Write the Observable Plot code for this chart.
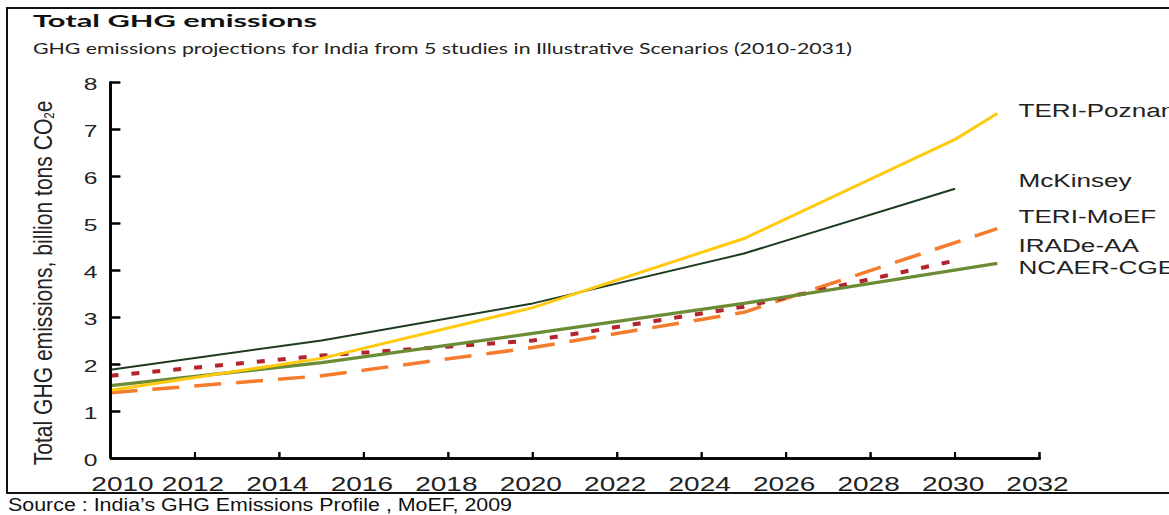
<!DOCTYPE html>
<html><head><meta charset="utf-8">
<script src="https://cdn.jsdelivr.net/npm/d3@7"></script>
<script src="https://cdn.jsdelivr.net/npm/@observablehq/plot@0.6"></script>
<style>
html,body{margin:0;padding:0;background:#fff;}
#wrap{position:relative;width:1169px;height:515px;overflow:hidden;background:#fff;font-family:"Liberation Sans",Arial,sans-serif;color:#222;}
#chart{position:absolute;left:0;top:0;}
.t{position:absolute;white-space:nowrap;line-height:1;transform-origin:0 0;}
.frame{position:absolute;background:#111;}
#title{font-family:Lato,"Open Sans",sans-serif;font-weight:bold;font-size:17px;color:#111;left:33px;top:12px;}
#subtitle{font-family:Lato,"Open Sans",sans-serif;font-size:14.5px;color:#222;left:33px;top:42px;}
#source{font-size:17.5px;color:#111;left:8px;top:497px;}
#ylabel{font-size:25px;color:#222;transform-origin:50% 50%;}
#ylabel sub{font-size:55%;vertical-align:-0.15em;}
</style></head><body>
<div id="wrap">
  <div id="chart"></div>
  <div class="frame" style="left:6px;top:7px;width:1163px;height:2px"></div>
  <div class="frame" style="left:6px;top:7px;width:2px;height:487px"></div>
  <div class="frame" style="left:6px;top:492px;width:1163px;height:2px"></div>
  <div id="title" class="t">Total GHG emissions</div>
  <div id="subtitle" class="t">GHG emissions projections for India from 5 studies in Illustrative Scenarios (2010-2031)</div>
  <div id="ylabel" class="t">Total GHG emissions, billion tons CO<sub>2</sub>e</div>
  <div id="source" class="t">Source : India’s GHG Emissions Profile , MoEF, 2009</div>
</div>
<script>
// ---- data ----
const years = [2010, 2015, 2020, 2025, 2030, 2031];
const seriesNames = ["TERI-Poznan", "McKinsey", "TERI-MoEF", "IRADe-AA", "NCAER-CGE"];
const teriPoznan = [1.45, 2.13, 3.21, 4.68, 6.79, 7.34];
const mckinsey   = [1.89, 2.51, 3.30, 4.36, 5.74, null];
const teriMoef   = [1.40, 1.76, 2.36, 3.11, null, 4.89];
const iradeAA    = [1.76, 2.19, 2.51, 3.23, 4.21, null];
const ncaerCge   = [1.55, 2.04, 2.66, 3.30, null, 4.15];
const xTicks = [2010, 2012, 2014, 2016, 2018, 2020, 2022, 2024, 2026, 2028, 2030, 2032];
const yTicks = [0, 1, 2, 3, 4, 5, 6, 7, 8];

// ---- layout & styles ----
const W = 1169, H = 495, mT = 82, mB = 37, mL = 110, mR = 130;
const frameW = W - mL - mR, frameH = H - mT - mB;
const axisColor = "black";
const styles = {
  "TERI-Poznan": {color: "#FFC90E", width: 3,   dash: null,    dy: -2},
  "McKinsey":    {color: "#1D3B20", width: 2,   dash: null,    dy: -7},
  "TERI-MoEF":   {color: "#F47C2C", width: 3.5, dash: "27,15", dy: -11},
  "IRADe-AA":    {color: "#B3242F", width: 4,   dash: "8,13",  dy: -14},
  "NCAER-CGE":   {color: "#6A8C34", width: 3.3, dash: null,    dy: 5}
};

const valuesBySeries = {
  "TERI-Poznan": teriPoznan, "McKinsey": mckinsey, "TERI-MoEF": teriMoef,
  "IRADe-AA": iradeAA, "NCAER-CGE": ncaerCge
};
const rows = [];
for (const s of seriesNames) {
  valuesBySeries[s].forEach((v, i) => { if (v != null) rows.push({series: s, year: years[i], value: v}); });
}
// axis corner path built from the first/last ticks
const axisCorner = [
  {x: xTicks[0], y: yTicks[yTicks.length - 1]},
  {x: xTicks[0], y: yTicks[0]},
  {x: xTicks[xTicks.length - 1], y: yTicks[0]}
];
// inward tick symbols
const tickRight = {draw(ctx) { ctx.moveTo(0, 0); ctx.lineTo(10, 0); }};
const tickUp = {draw(ctx) { ctx.moveTo(0, 0); ctx.lineTo(0, -6); }};

const marks = [];
// series lines
const drawOrder = ["TERI-MoEF", "IRADe-AA", "NCAER-CGE", "McKinsey", "TERI-Poznan"];
for (const s of drawOrder) {
  const st = styles[s];
  marks.push(Plot.line(rows.filter(r => r.series === s), {
    x: "year", y: "value", stroke: st.color, strokeWidth: st.width,
    strokeDasharray: st.dash, strokeLinecap: "butt", strokeLinejoin: "round"
  }));
}
// axis lines and inward ticks
marks.push(Plot.line(axisCorner, {x: "x", y: "y", stroke: axisColor, strokeWidth: 2.6, strokeLinejoin: "miter", strokeLinecap: "square"}));
marks.push(Plot.ruleY([yTicks[0]], {stroke: axisColor, strokeWidth: 2.6}));
marks.push(Plot.ruleX([xTicks[0]], {stroke: axisColor, strokeWidth: 2.6}));
marks.push(Plot.dot(yTicks.slice(1), {y: d => d, frameAnchor: "left", symbol: tickRight, r: 5, fill: "none", stroke: axisColor, strokeWidth: 2}));
marks.push(Plot.dot(xTicks.slice(1), {x: d => d, frameAnchor: "bottom", symbol: tickUp, r: 5, fill: "none", stroke: axisColor, strokeWidth: 2}));
marks.push(Plot.tickY(yTicks.slice(1), {y: d => d, insetRight: frameW - 10, stroke: axisColor, strokeWidth: 2}));
marks.push(Plot.tickX(xTicks.slice(1), {x: d => d, insetTop: frameH - 6, stroke: axisColor, strokeWidth: 2}));
// axis labels
marks.push(Plot.axisY({ticks: yTicks, tickSize: 0, tickPadding: 13, fontSize: 17, color: "#222", dy: 2, label: null, tickFormat: d => String(d)}));
marks.push(Plot.axisX({ticks: xTicks.slice(1), tickSize: 0, tickPadding: 18, fontSize: 20, color: "#222", dx: -2, label: null, tickFormat: d => String(d)}));
marks.push(Plot.axisX({ticks: xTicks.slice(0, 1), tickSize: 0, tickPadding: 18, fontSize: 20, color: "#222", dx: 12, label: null, tickFormat: d => String(d)}));
// series name labels at the line ends
for (const s of seriesNames) {
  const pts = rows.filter(r => r.series === s);
  marks.push(Plot.text([pts[pts.length - 1]], {
    y: "value", text: "series", frameAnchor: "right", textAnchor: "start",
    lineAnchor: "middle", dx: -21, dy: styles[s].dy, fontSize: 18, fill: "#222"
  }));
}

const chart = Plot.plot({
  width: W, height: H,
  marginTop: mT, marginBottom: mB, marginLeft: mL, marginRight: mR,
  x: {domain: [xTicks[0], xTicks[xTicks.length - 1]], label: null},
  y: {domain: [yTicks[0], yTicks[yTicks.length - 1]], label: null},
  style: {fontFamily: "'Liberation Sans', Arial, sans-serif", color: "#222", background: "transparent"},
  marks
});
document.getElementById("chart").append(chart);

// horizontal stretch of chart texts (source picture is stretched wide)
function stretch(t, k) {
  const w = t.getComputedTextLength();
  t.setAttribute("textLength", (w * k).toFixed(1));
  t.setAttribute("lengthAdjust", "spacingAndGlyphs");
}
try {
  chart.querySelectorAll('g[aria-label="x-axis tick label"] text').forEach(t => stretch(t, 1.4));
  chart.querySelectorAll('g[aria-label="y-axis tick label"] text').forEach(t => stretch(t, 1.45));
  chart.querySelectorAll('g[aria-label="text"] text').forEach(t => stretch(t, 1.45));
} catch (e) {}

// fit HTML texts to their widths in the picture
function fitX(id, target) {
  const el = document.getElementById(id);
  const w = el.getBoundingClientRect().width;
  el.style.transform = `scaleX(${target / w})`;
}
fitX("title", 284);
fitX("subtitle", 819);
fitX("source", 504);
(function () {
  const el = document.getElementById("ylabel");
  const w = el.offsetWidth, h = el.offsetHeight;
  el.style.left = (43 - w / 2) + "px";
  el.style.top = (283 - h / 2) + "px";
  el.style.transform = `rotate(-90deg) scaleX(${365 / w})`;
})();
</script>
</body></html>
